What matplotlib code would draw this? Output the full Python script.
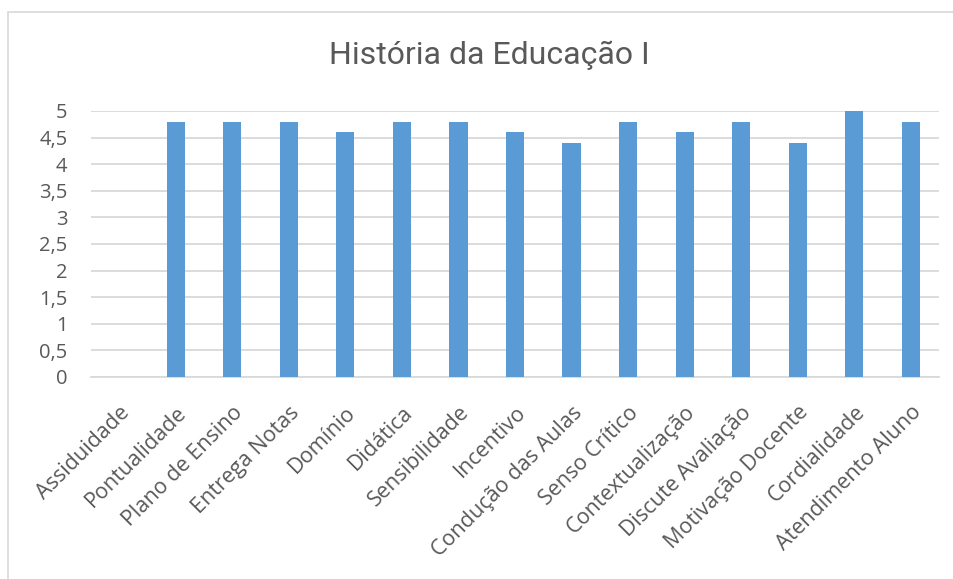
import matplotlib
matplotlib.use("Agg")
import matplotlib.pyplot as plt
from matplotlib.patches import Rectangle

categories = [
    "Assiduidade", "Pontualidade", "Plano de Ensino", "Entrega Notas", "Domínio",
    "Didática", "Sensibilidade", "Incentivo", "Condução das Aulas", "Senso Crítico",
    "Contextualização", "Discute Avaliação", "Motivação Docente", "Cordialidade",
    "Atendimento Aluno",
]
values = [0, 4.8, 4.8, 4.8, 4.6, 4.8, 4.8, 4.6, 4.4, 4.8, 4.6, 4.8, 4.4, 5, 4.8]
yticks = [0, 0.5, 1, 1.5, 2, 2.5, 3, 3.5, 4, 4.5, 5]
ytick_labels = ["0", "0,5", "1", "1,5", "2", "2,5", "3", "3,5", "4", "4,5", "5"]

text_color = "#595959"
grid_color = "#D9D9D9"
plt.rcParams["font.family"] = ["Open Sans", "DejaVu Sans"]

fig = plt.figure(figsize=(9.54, 5.79), dpi=100)
# chart frame (only left and top edges visible in the reference)
fig.patches.append(Rectangle((8 / 954, -0.1), 1.2, 1 - 12 / 579 + 0.1, transform=fig.transFigure,
                             fill=False, edgecolor=grid_color, linewidth=1.2))

ax = fig.add_axes([91 / 954, 1 - 377 / 579, (939 - 91) / 954, (377 - 111) / 579])
x = range(len(categories))
ax.bar(x, values, width=0.32, color="#5B9BD5", zorder=3)
ax.set_xlim(-0.5, len(categories) - 0.5)
ax.set_ylim(0, 5)
ax.set_yticks(yticks, ytick_labels)
ax.set_xticks(list(x), categories, rotation=45, ha="right", rotation_mode="anchor")
ax.tick_params(axis="y", length=0, labelsize=14.5, colors=text_color, pad=17)
ax.tick_params(axis="x", length=0, labelsize=15.5, colors=text_color, pad=18)
ax.grid(axis="y", color=grid_color, linewidth=1.3, zorder=0)
for side in ["top", "right", "left"]:
    ax.spines[side].set_visible(False)
ax.spines["bottom"].set_color(grid_color)
ax.spines["bottom"].set_linewidth(1.3)

fig.text(489 / 954, 1 - 55 / 579, "História da Educação I", ha="center", va="center",
         fontsize=23, color=text_color, family=["Liberation Sans Narrow", "Roboto", "DejaVu Sans"])

fig.savefig("out.png", dpi=100)
